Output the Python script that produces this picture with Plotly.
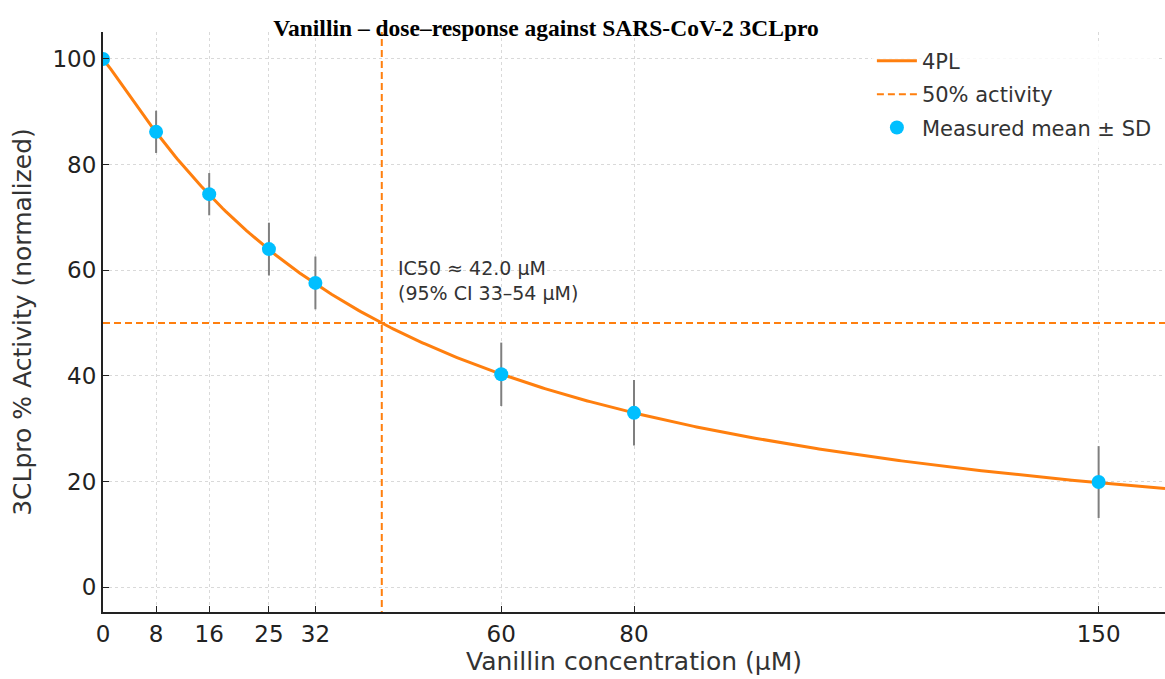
import numpy as np
import plotly.graph_objects as go

# Measured data
conc = [0, 8, 16, 25, 32, 60, 80, 150]
activity = [100.0, 86.2, 74.4, 64.0, 57.6, 40.3, 33.0, 19.9]
sd = [0.0, 4.0, 4.0, 5.0, 5.0, 6.0, 6.2, 6.8]

# 4PL fit parameters
fit_top = 100.0
fit_bottom = 0.0
fit_ic50 = 42.0
fit_hill = 1.1

x_ticks = [0, 8, 16, 25, 32, 60, 80, 150]
y_ticks = [0, 20, 40, 60, 80, 100]

xfit = np.linspace(0.0, 160.0, 400)
yfit = fit_bottom + (fit_top - fit_bottom) / (1.0 + (xfit / fit_ic50) ** fit_hill)

orange = "#ff7f0e"
font = "DejaVu Sans"
dash = "7px,4px"

fig = go.Figure()
fig.add_trace(go.Scatter(x=xfit, y=yfit, mode="lines", name="4PL", legendgroup="a",
                         line=dict(color=orange, width=3)))
fig.add_trace(go.Scatter(x=[0, 160], y=[50, 50], mode="lines", name="50% activity",
                         legendgroup="b", line=dict(color=orange, width=2, dash=dash)))
fig.add_trace(go.Scatter(x=[fit_ic50, fit_ic50], y=[-10, 110], mode="lines",
                         showlegend=False, line=dict(color=orange, width=2, dash=dash)))
fig.add_trace(go.Scatter(x=conc, y=activity, mode="markers", name="Measured mean ± SD",
                         legendgroup="c",
                         marker=dict(color="#00bfff", size=14),
                         error_y=dict(type="data", array=sd, visible=True,
                                      color="#7f7f7f", thickness=2, width=0)))

fig.add_annotation(x=44.1, y=58.05, xref="x", yref="y",
                   text="IC50 ≈ 42.0 µM<br>(95% CI 33–54 µM)",
                   showarrow=False, xanchor="left", yanchor="middle", align="left",
                   font=dict(family=font, size=19, color="#333333"))

fig.update_layout(
    width=1165, height=679,
    margin=dict(l=103, r=0, t=32, b=67, autoexpand=False),
    paper_bgcolor="white", plot_bgcolor="white",
    font=dict(family=font, color="#222222"),
    title=dict(text="<b>Vanillin – dose–response against SARS-CoV-2 3CLpro</b>",
               x=546 / 1165, xanchor="center", y=1 - 28 / 679, yanchor="middle",
               automargin=False,
               font=dict(family="Liberation Serif", size=23.5, color="black")),
    legend=dict(x=0.724, y=0.985, xanchor="left", yanchor="top",
                bgcolor="rgba(255,255,255,0.8)", borderwidth=0,
                font=dict(family=font, size=21, color="#333333"),
                itemwidth=40, tracegroupgap=3),
    showlegend=True,
)
fig.update_xaxes(range=[0, 160], tickmode="array", tickvals=x_ticks,
                 ticktext=[str(v) for v in x_ticks], automargin=False,
                 showline=True, linecolor="#222222", linewidth=2, mirror=False,
                 ticks="inside", ticklen=6, tickcolor="#222222",
                 showgrid=True, gridcolor="#d9d9d9", griddash="dot", gridwidth=1,
                 zeroline=False, tickfont=dict(size=23, family=font, color="#222222"),
                 title=dict(text="Vanillin concentration (µM)",
                            font=dict(size=25, family=font, color="#333333"), standoff=4))
fig.update_yaxes(range=[-4.7, 105.1], tickmode="array", tickvals=y_ticks, automargin=False,
                 showline=True, linecolor="#222222", linewidth=2, mirror=False,
                 ticks="inside", ticklen=6, tickcolor="#222222",
                 showgrid=True, gridcolor="#d9d9d9", griddash="dot", gridwidth=1,
                 zeroline=False, tickfont=dict(size=23, family=font, color="#222222"),
                 title=dict(text="3CLpro % Activity (normalized)",
                            font=dict(size=25, family=font, color="#333333"), standoff=14))

fig.write_html("out.html", config={"displayModeBar": False},
               post_script="document.body.style.margin='0';document.body.style.overflow='hidden';")
